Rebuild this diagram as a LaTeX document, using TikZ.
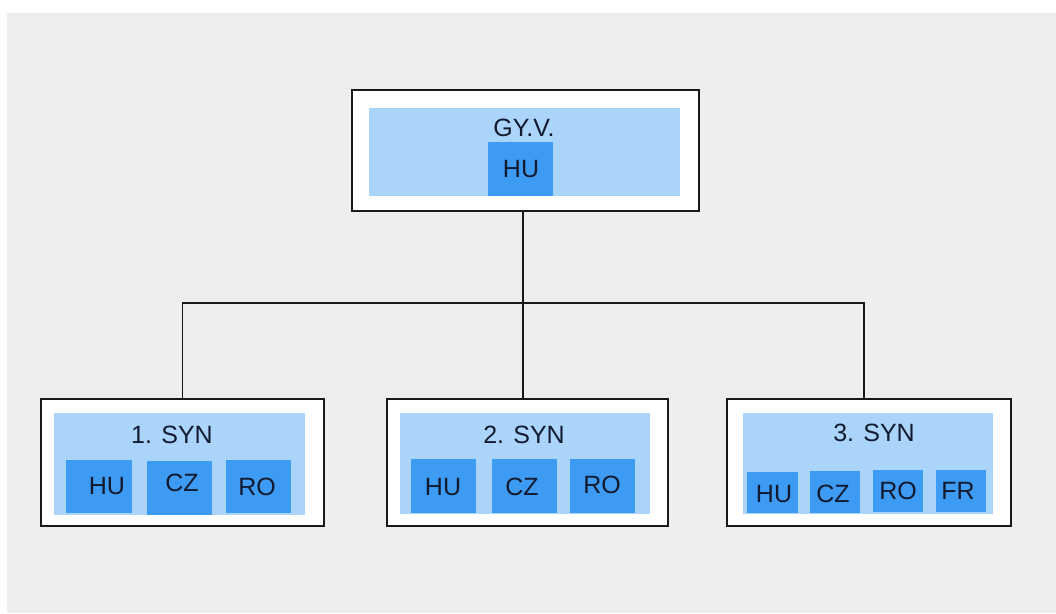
\documentclass[tikz,border=0pt]{standalone}
\usepackage{fontspec}
\setmainfont{Liberation Sans}
\definecolor{bggray}{HTML}{EEEEEE}
\definecolor{lightblue}{HTML}{AAD4FA}
\definecolor{midblue}{HTML}{3E9BF4}
\definecolor{txtnavy}{HTML}{121A30}
\begin{document}
\begin{tikzpicture}[x=1pt,y=-1pt,
  frame/.style={draw=black!90,line width=1.8pt,fill=white,inner sep=0pt},
  panel/.style={fill=lightblue,draw=none,inner sep=0pt},
  member/.style={fill=midblue,draw=none,inner sep=0pt},
  lbl/.style={text=txtnavy,inner sep=0pt,font=\fontsize{25}{29}\selectfont},
  conn/.style={draw=black!90,line width=1.2pt}]
\useasboundingbox (0,0) rectangle (1056,613);
\fill[white] (0,0) rectangle (1056,613);
\fill[bggray] (7,13) rectangle (1056,613);
% top unit
\node[frame,minimum width=347pt,minimum height=121pt] (top) at (525.5,150.5) {};
\node[panel,minimum width=311pt,minimum height=88pt] (toppanel) at (524.5,152) {};
\node[member,minimum width=65pt,minimum height=54pt] (tophu) at (520.5,169) {};
\node[lbl] (toptitle) at (524,127.5) {GY.V.};
\node[lbl] (tophutxt) at (521,169) {HU};
% unit 1
\node[frame,minimum width=283pt,minimum height=127pt] (s1) at (182.5,462.5) {};
\node[panel,minimum width=251pt,minimum height=102pt] (p1) at (179.5,464) {};
\node[member,minimum width=66pt,minimum height=53pt] (a1) at (99,486.5) {};
\node[member,minimum width=65pt,minimum height=54pt] (b1) at (179.5,488) {};
\node[member,minimum width=65pt,minimum height=53pt] (c1) at (258.5,486.5) {};
\node[lbl] (t1) at (172,435) {1. SYN};
\node[lbl] (a1t) at (107,486) {HU};
\node[lbl] (b1t) at (182,483) {CZ};
\node[lbl] (c1t) at (257,487) {RO};
% unit 2
\node[frame,minimum width=281pt,minimum height=127pt] (s2) at (527.5,462.5) {};
\node[panel,minimum width=250pt,minimum height=101pt] (p2) at (525,463.5) {};
\node[member,minimum width=65pt,minimum height=54pt] (a2) at (443.5,486) {};
\node[member,minimum width=65pt,minimum height=54pt] (b2) at (524.5,486) {};
\node[member,minimum width=65pt,minimum height=54pt] (c2) at (602.5,486) {};
\node[lbl] (t2) at (524,435) {2. SYN};
\node[lbl] (a2t) at (443,487) {HU};
\node[lbl] (b2t) at (522,487) {CZ};
\node[lbl] (c2t) at (602,485) {RO};
% unit 3
\node[frame,minimum width=284pt,minimum height=127pt] (s3) at (869,462.5) {};
\node[panel,minimum width=250pt,minimum height=101pt] (p3) at (868,463.5) {};
\node[member,minimum width=51pt,minimum height=41pt] (a3) at (772.5,492.5) {};
\node[member,minimum width=50pt,minimum height=42pt] (b3) at (835,492) {};
\node[member,minimum width=50pt,minimum height=42pt] (c3) at (898,491) {};
\node[member,minimum width=50pt,minimum height=42pt] (d3) at (961,491) {};
\node[lbl] (t3) at (874,433) {3. SYN};
\node[lbl] (a3t) at (774,494) {HU};
\node[lbl] (b3t) at (833,494) {CZ};
\node[lbl] (c3t) at (898,491) {RO};
\node[lbl] (d3t) at (958,491) {FR};
% connectors
\coordinate (hub) at (523,303);
\draw[conn] ([xshift=-2.5pt]top.south) -- (hub);
\draw[conn] (s1.north) |- (hub);
\draw[conn] ([xshift=-4.5pt]s2.north) -- (hub);
\draw[conn] ([xshift=-5pt]s3.north) |- (hub);
\end{tikzpicture}
\end{document}
